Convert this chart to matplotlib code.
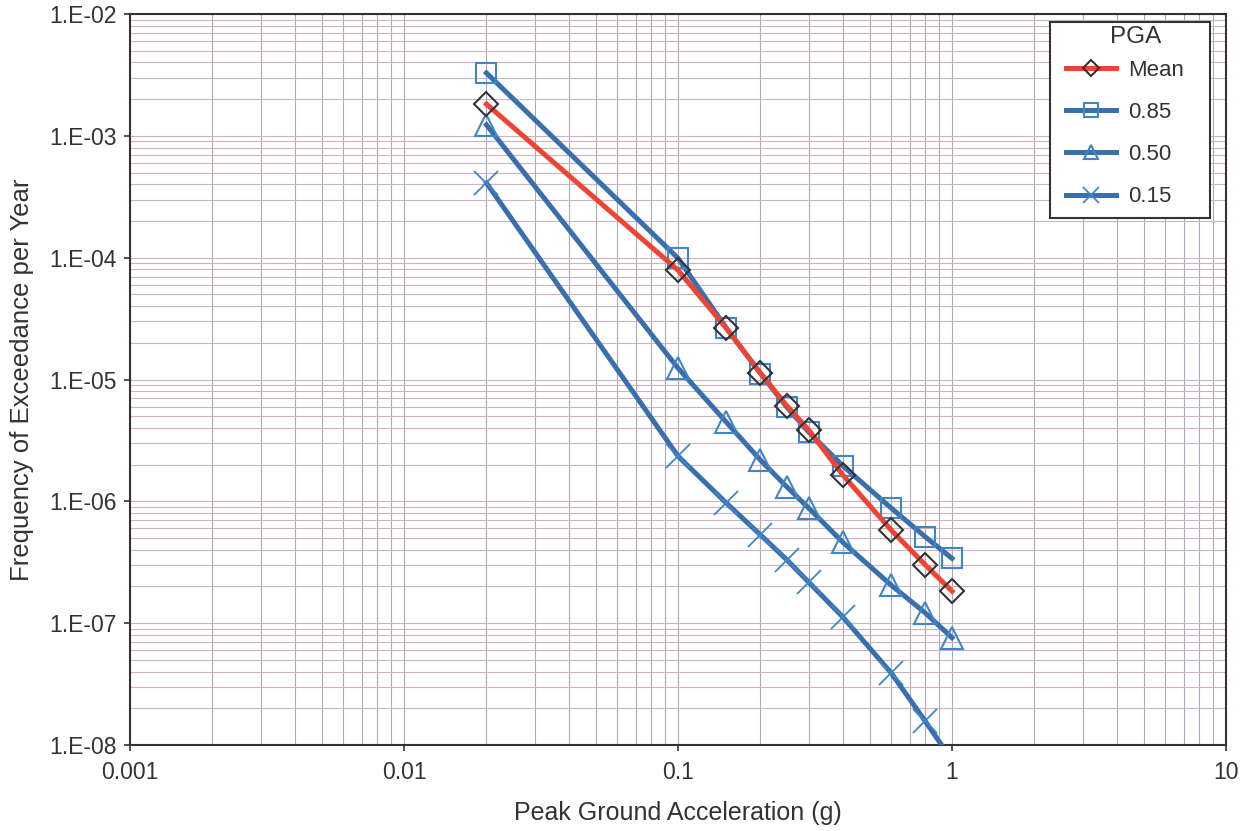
import matplotlib
matplotlib.use("Agg")
import matplotlib.pyplot as plt
from matplotlib.ticker import FixedLocator, FixedFormatter, LogLocator, NullFormatter
from matplotlib.patches import Rectangle
import numpy as np

plt.rcParams['font.family'] = ['Liberation Sans', 'DejaVu Sans']

pga = [0.02, 0.1, 0.15, 0.2, 0.25, 0.3, 0.4, 0.6, 0.8, 1.0]
mean = [1.82e-3, 7.9e-5, 2.64e-5, 1.13e-5, 6.05e-6, 3.85e-6, 1.64e-6, 5.8e-7, 3.0e-7, 1.83e-7]
p85 = [3.28e-3, 9.9e-5, 2.65e-5, 1.12e-5, 5.9e-6, 3.7e-6, 1.95e-6, 8.8e-7, 5.1e-7, 3.4e-7]
p50 = [1.23e-3, 1.24e-5, 4.47e-6, 2.18e-6, 1.31e-6, 8.8e-7, 4.6e-7, 2.05e-7, 1.21e-7, 7.6e-8]
p15 = [4.1e-4, 2.35e-6, 9.7e-7, 5.3e-7, 3.3e-7, 2.17e-7, 1.12e-7, 3.9e-8, 1.56e-8, 7.5e-9]

x_ticks = [0.001, 0.01, 0.1, 1, 10]
x_labels = ["0.001", "0.01", "0.1", "1", "10"]
y_ticks = [1e-8, 1e-7, 1e-6, 1e-5, 1e-4, 1e-3, 1e-2]
y_labels = ["1.E-08", "1.E-07", "1.E-06", "1.E-05", "1.E-04", "1.E-03", "1.E-02"]

blue = '#3a6fae'
mblue = '#3f86c8'
red = '#ee4433'
txt = '#333333'

W, H = 1254, 831
fig = plt.figure(figsize=(W / 100, H / 100), dpi=100)
ax = fig.add_axes([130 / W, 1 - 745 / H, (1226 - 130) / W, (745 - 14) / H])
ax.set_xscale('log')
ax.set_yscale('log')
ax.set_xlim(0.001, 10)
ax.set_ylim(1e-8, 1e-2)

# grid
ax.xaxis.set_minor_locator(LogLocator(base=10, subs=np.arange(2, 10)))
ax.yaxis.set_minor_locator(LogLocator(base=10, subs=np.arange(2, 10)))
ax.xaxis.set_minor_formatter(NullFormatter())
ax.yaxis.set_minor_formatter(NullFormatter())
ax.grid(True, which='both', axis='x', color='#b2a6ba', lw=0.8)
ax.grid(True, which='both', axis='y', color='#cdb2c0', lw=0.8)
ax.set_axisbelow(True)

lw = 3.6
ax.plot(pga, p15, color=blue, lw=lw, marker='x', ms=17, mew=1.3, mec=mblue,
        label='0.15', zorder=3)
ax.plot(pga, p50, color=blue, lw=lw, marker='^', ms=16, mew=1.5, mec=mblue,
        mfc='none', label='0.50', zorder=3)
ax.plot(pga, p85, color=blue, lw=lw, marker='s', ms=15, mew=1.5, mec=mblue,
        mfc='none', label='0.85', zorder=4)
ax.plot(pga, mean, color=red, lw=lw, marker='D', ms=12.5, mew=1.5, mec='#333333',
        mfc='none', label='Mean', zorder=5)

ax.xaxis.set_major_locator(FixedLocator(x_ticks))
ax.xaxis.set_major_formatter(FixedFormatter(x_labels))
ax.yaxis.set_major_locator(FixedLocator(y_ticks))
ax.yaxis.set_major_formatter(FixedFormatter(y_labels))
ax.tick_params(which='major', direction='out', length=4.5, width=1.2, colors=txt,
               labelsize=16.5)
ax.tick_params(axis='x', pad=7)
ax.tick_params(axis='y', pad=5)
ax.tick_params(which='minor', length=0)
for s in ax.spines.values():
    s.set_color('#333333')
    s.set_linewidth(1.5)

ax.set_xlabel('Peak Ground Acceleration (g)', fontsize=18, color=txt)
ax.set_ylabel('Frequency of Exceedance per Year', fontsize=18.5, color=txt)
ax.xaxis.set_label_coords(0.5, (745 - 801) / 731)
ax.yaxis.set_label_coords((34 - 130) / 1096, 0.5)

# legend box
box = Rectangle((1050 / W, 1 - 218 / H), (1210 - 1050) / W, (218 - 22) / H,
                transform=fig.transFigure, facecolor='white', edgecolor='#333333',
                lw=1.5, zorder=8, clip_on=False)
ax.add_patch(box)
ax.text(1136 / W, 1 - 37 / H, 'PGA', transform=fig.transFigure, ha='center',
        va='center', fontsize=17.5, color=txt, zorder=11, clip_on=False)

handles, labels = ax.get_legend_handles_labels()
order = [3, 2, 1, 0]
leg = ax.legend([handles[i] for i in order], [labels[i] for i in order],
                loc='upper left',
                bbox_to_anchor=(1066 / W, 1 - 60 / H),
                bbox_transform=fig.transFigure,
                fontsize=16, frameon=False,
                handlelength=2.25, handletextpad=0.55, labelspacing=0.95,
                borderpad=0, borderaxespad=0, markerscale=0.65)
leg.set_zorder(10)
for t in leg.get_texts():
    t.set_color(txt)

fig.savefig('out.png', dpi=100)
